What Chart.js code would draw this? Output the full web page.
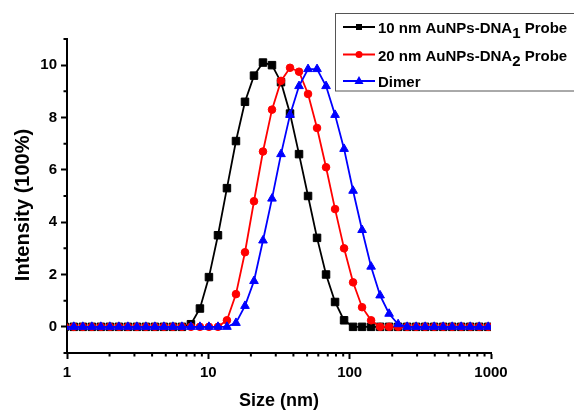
<!DOCTYPE html>
<html>
<head>
<meta charset="utf-8">
<script src="https://cdn.jsdelivr.net/npm/chart.js@4.4.0/dist/chart.umd.min.js"></script>
<style>
  html, body { margin: 0; padding: 0; background: #fff; }
  #wrap { width: 574px; height: 410px; }
</style>
</head>
<body>
<div id="wrap"><canvas id="dlsChart" width="574" height="410"></canvas></div>
<script>
// size bins (nm), log spaced
const sizes = [0.9649, 1.117, 1.294, 1.499, 1.736, 2.01, 2.328, 2.696, 3.122, 3.615,
  4.187, 4.849, 5.615, 6.503, 7.531, 8.721, 10.1, 11.7, 13.54, 15.69,
  18.17, 21.04, 24.36, 28.21, 32.67, 37.84, 43.82, 50.75, 58.77, 68.06,
  78.82, 91.28, 105.7, 122.4, 141.8, 164.2, 190.1, 220.2, 255, 295.3,
  342, 396.1, 458.7, 531.2, 615.1, 712.4, 825, 955.4];

const probe10 = [0, 0, 0, 0, 0, 0, 0, 0, 0, 0,
  0, 0, 0, 0, 0.1, 0.7, 1.9, 3.5, 5.3, 7.1,
  8.6, 9.6, 10.1, 10.0, 9.35, 8.15, 6.6, 5.0, 3.4, 2.0,
  0.95, 0.25, 0, 0, 0, 0, 0, 0, 0, 0,
  0, 0, 0, 0, 0, 0, 0, 0];

const probe20 = [0, 0, 0, 0, 0, 0, 0, 0, 0, 0,
  0, 0, 0, 0, 0, 0, 0, 0, 0.25, 1.25,
  2.85, 4.8, 6.7, 8.3, 9.4, 9.9, 9.75, 8.9, 7.6, 6.1,
  4.5, 3.0, 1.7, 0.75, 0.25, 0, 0, 0, 0, 0,
  0, 0, 0, 0, 0, 0, 0, 0];

const dimer = [0, 0, 0, 0, 0, 0, 0, 0, 0, 0,
  0, 0, 0, 0, 0, 0, 0, 0, 0, 0.15,
  0.8, 1.75, 3.3, 4.9, 6.6, 8.1, 9.2, 9.85, 9.85, 9.2,
  8.1, 6.8, 5.2, 3.7, 2.3, 1.2, 0.5, 0.1, 0, 0,
  0, 0, 0, 0, 0, 0, 0, 0];

const seriesNames = ['10 nm AuNPs-DNA\u2081 Probe', '20 nm AuNPs-DNA\u2082 Probe', 'Dimer'];
const xTickValues = [1, 10, 100, 1000];
const yTickValues = [0, 2, 4, 6, 8, 10];
const xTitle = 'Size (nm)';
const yTitle = 'Intensity (100%)';

const FONT = '"Liberation Sans", Arial, sans-serif';

function toPoints(values) {
  return sizes.map((s, i) => ({ x: s, y: values[i] }));
}

function drawMarker(ctx, style, r, x, y) {
  ctx.beginPath();
  if (style === 'rect') {
    ctx.rect(x - r, y - r, 2 * r, 2 * r);
  } else if (style === 'circle') {
    ctx.arc(x, y, r, 0, Math.PI * 2);
  } else {
    ctx.moveTo(x, y - r * 1.1);
    ctx.lineTo(x + r, y + r * 0.65);
    ctx.lineTo(x - r, y + r * 0.65);
    ctx.closePath();
  }
  ctx.fill();
}

const decorPlugin = {
  id: 'decor',
  afterDraw(chart) {
    const ctx = chart.ctx;
    const xs = chart.scales.x;
    const ys = chart.scales.y;
    const area = chart.chartArea;

    ctx.save();
    // minor ticks
    ctx.strokeStyle = '#000';
    ctx.lineWidth = 2;
    ctx.beginPath();
    [1, 10, 100].forEach(d => {
      for (let k = 2; k <= 9; k++) {
        const px = xs.getPixelForValue(k * d);
        ctx.moveTo(px, area.bottom);
        ctx.lineTo(px, area.bottom + 3.5);
      }
    });
    [-1, 1, 3, 5, 7, 9, 11].forEach(v => {
      const py = ys.getPixelForValue(v);
      ctx.moveTo(area.left, py);
      ctx.lineTo(area.left - 3.5, py);
    });
    ctx.stroke();

    // axis titles
    ctx.fillStyle = '#000';
    ctx.textAlign = 'center';
    ctx.textBaseline = 'middle';
    ctx.font = 'bold 18px ' + FONT;
    ctx.fillText(xTitle, (area.left + area.right) / 2, 401);
    ctx.save();
    ctx.translate(23, 205);
    ctx.rotate(-Math.PI / 2);
    ctx.font = 'bold 20px ' + FONT;
    ctx.fillText(yTitle, 0, 0);
    ctx.restore();

    // legend
    ctx.strokeStyle = '#555';
    ctx.lineWidth = 1;
    ctx.strokeRect(335.5, 13.5, 250, 77.5);

    const baselines = [33, 60.5, 87];
    const legendRadius = { rect: 3, circle: 3.5, triangle: 4.5 };
    chart.data.datasets.forEach((ds, i) => {
      const yb = baselines[i];
      const yl = yb - 6;
      ctx.strokeStyle = ds.borderColor;
      ctx.fillStyle = ds.borderColor;
      ctx.lineWidth = 2;
      ctx.beginPath();
      ctx.moveTo(343, yl);
      ctx.lineTo(375, yl);
      ctx.stroke();
      drawMarker(ctx, ds.pointStyle, legendRadius[ds.pointStyle], 359, yl);

      ctx.fillStyle = '#000';
      ctx.textAlign = 'left';
      ctx.textBaseline = 'alphabetic';
      ctx.font = 'bold 15px ' + FONT;
      let x = 378;
      const subs = { '\u2081': '1', '\u2082': '2' };
      let buf = '';
      const flush = () => {
        if (buf) { ctx.fillText(buf, x, yb); x += ctx.measureText(buf).width; buf = ''; }
      };
      for (const ch of ds.label) {
        if (subs[ch]) {
          flush();
          ctx.fillText(subs[ch], x, yb + 5);
          x += ctx.measureText(subs[ch]).width;
        } else {
          buf += ch;
        }
      }
      flush();
    });
    ctx.restore();
  }
};

const axisStyle = {
  grid: {
    display: true,
    drawOnChartArea: false,
    drawTicks: true,
    tickLength: 6,
    tickColor: '#000',
    tickWidth: 2
  },
  border: { display: true, color: '#000', width: 2 }
};

const ctx = document.getElementById('dlsChart').getContext('2d');

const dlsChart = new Chart(ctx, {
  type: 'line',
  data: {
    datasets: [{
      label: seriesNames[0],
      data: toPoints(probe10),
      borderColor: '#000000',
      backgroundColor: '#000000',
      pointStyle: 'rect',
      pointRadius: 5.3,
      order: 3
    }, {
      label: seriesNames[1],
      data: toPoints(probe20),
      borderColor: '#ff0000',
      backgroundColor: '#ff0000',
      pointStyle: 'circle',
      pointRadius: 3.8,
      order: 2
    }, {
      label: seriesNames[2],
      data: toPoints(dimer),
      borderColor: '#0000ff',
      backgroundColor: '#0000ff',
      pointStyle: 'triangle',
      pointRadius: 5,
      order: 1
    }]
  },
  options: {
    responsive: false,
    animation: false,
    devicePixelRatio: 1,
    layout: { padding: { top: 39, right: 83, left: 0, bottom: 0 } },
    elements: {
      line: { borderWidth: 1.8, tension: 0 },
      point: { borderWidth: 1, hoverRadius: 5 }
    },
    plugins: {
      legend: { display: false },
      tooltip: { enabled: false }
    },
    scales: {
      x: {
        type: 'logarithmic',
        min: 1,
        max: 1000,
        afterBuildTicks: s => { s.ticks = xTickValues.map(v => ({ value: v })); },
        afterFit: s => { s.height = 57; },
        ticks: {
          callback: v => String(v),
          color: '#000',
          font: { family: FONT, size: 15, weight: 'bold' },
          padding: 5,
          maxRotation: 0,
          autoSkip: false
        },
        ...axisStyle
      },
      y: {
        type: 'linear',
        min: -1,
        max: 11,
        afterBuildTicks: s => { s.ticks = yTickValues.map(v => ({ value: v })); },
        afterFit: s => { s.width = 67; },
        ticks: {
          color: '#000',
          font: { family: FONT, size: 15, weight: 'bold' },
          padding: 4
        },
        ...axisStyle
      }
    }
  },
  plugins: [decorPlugin]
});
</script>
</body>
</html>
